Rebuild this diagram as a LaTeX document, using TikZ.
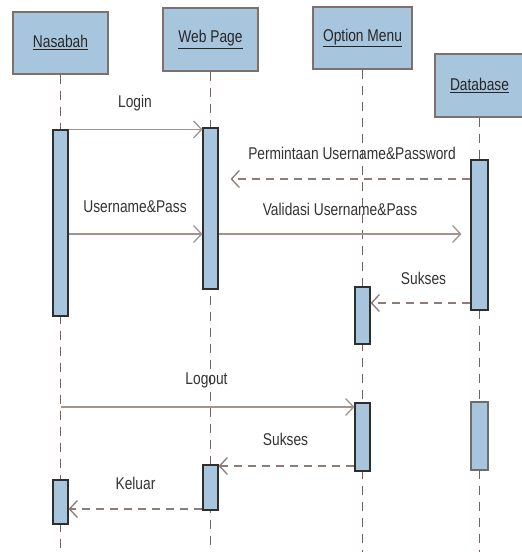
\documentclass[tikz,border=0pt]{standalone}
\usepackage{fontspec}
\setmainfont{Liberation Sans}
\usetikzlibrary{arrows.meta}
\definecolor{boxfill}{HTML}{A8C5DE}
\definecolor{boxline}{HTML}{7E706D}
\definecolor{lifeln}{HTML}{7A625C}
\definecolor{msgsolid}{HTML}{A3938F}
\definecolor{msgdash}{HTML}{8C7B76}
\definecolor{actline}{HTML}{2E2E2E}
\tikzset{
  header/.style={draw=boxline, line width=1.4pt, fill=boxfill, minimum width=95pt, minimum height=62pt, inner sep=0pt},
  actbox/.style={draw=actline, line width=1.1pt, fill=boxfill, minimum width=15pt, inner sep=0pt},
  lifeline/.style={draw=lifeln, line width=1pt, dash pattern=on 9pt off 7pt},
  msgcall/.style={draw=msgsolid, line width=1.5pt, -{Straight Barb[length=8pt,width=17pt,line width=1.3pt]}},
  msgreply/.style={draw=msgdash, line width=1.4pt, dash pattern=on 8pt off 6pt, -{Straight Barb[length=8pt,width=17pt,line width=1.3pt]}},
  lbl/.style={font=\fontsize{14.2}{16}\selectfont, text=black!80, inner sep=0pt},
  htext/.style={font=\fontsize{14.2}{16}\selectfont, text=black!85}
}
% tall, slightly narrow lettering
\newcommand{\tl}[1]{\scalebox{0.97}[1.2]{#1}}
\newcommand{\ul}[1]{\tl{\underline{#1}}}
\begin{document}
\begin{tikzpicture}[x=1pt, y=-1pt]
\useasboundingbox (0,0) rectangle (522,552);
\fill[white] (0,0) rectangle (522,552);

% lifeline heads
\node[header, htext] (nas) at (60.5,43) {\ul{Nasabah}};
\node[header, htext, minimum height=63pt] (web) at (210.5,39.5) {\ul{Web Page}};
\node[header, htext, minimum width=99pt] (opt) at (362.5,38) {\ul{Option Menu}};
\node[header, htext, minimum width=89pt, minimum height=63pt] (db) at (479.5,85.5) {\ul{Database}};

% lifeline ends
\coordinate (nasEnd) at (60.5,552);
\coordinate (webEnd) at (210.5,552);
\coordinate (optEnd) at (362.5,552);
\coordinate (dbEnd) at (479.5,552);

\draw[lifeline] (nas.south) -- (nasEnd);
\draw[lifeline] (web.south) -- (webEnd);
\draw[lifeline] (opt.south) -- (optEnd);
\draw[lifeline] (db.south) -- (dbEnd);

% activation bars
\node[actbox, minimum height=186pt] (n1) at (60.5,223) {};
\node[actbox, minimum height=161pt] (w1) at (210.5,208.5) {};
\node[actbox, minimum width=17pt, minimum height=150pt] (d1) at (479.5,235) {};
\node[actbox, minimum height=57pt] (o1) at (362.5,315.5) {};
\node[actbox, minimum height=68pt] (o2) at (362.5,437) {};
\node[actbox, draw=actline!70, minimum width=17pt, minimum height=68pt] (d2) at (479.5,436) {};
\node[actbox, minimum height=45pt] (w2) at (210.5,487.5) {};
\node[actbox, minimum height=44pt] (n2) at (60.5,502) {};

% messages
\draw[msgcall] (n1.north east) -- (n1.north east -| w1.west);
\node[lbl] (lLogin) at (135,103) {\tl{Login}};

\coordinate (reqEnd) at ([xshift=12pt]w1.east |- 0,179);
\draw[msgreply] (d1.west |- reqEnd) -- (reqEnd);
\node[lbl] (lReq) at (352,153) {\tl{Permintaan Username\&Password}};

\coordinate (upY) at (0,234);
\draw[msgcall] (n1.east |- upY) -- (w1.west |- upY);
\node[lbl] (lUp) at (135,207) {\tl{Username\&Pass}};

\coordinate (valEnd) at ([xshift=-9pt]d1.west |- upY);
\draw[msgcall] (w1.east |- upY) -- (valEnd);
\node[lbl] (lVal) at (340,209) {\tl{Validasi Username\&Pass}};

\coordinate (sukY) at (0,303);
\draw[msgreply] (d1.west |- sukY) -- (o1.east |- sukY);
\node[lbl] (lSuk) at (423.5,278) {\tl{Sukses}};

\coordinate (outY) at (0,407);
\draw[msgcall] (nas.south |- outY) -- (o2.west |- outY);
\node[lbl] (lOut) at (206.5,380) {\tl{Logout}};

\coordinate (suk2Y) at (0,466);
\draw[msgreply] (o2.west |- suk2Y) -- (w2.east |- suk2Y);
\node[lbl] (lSuk2) at (285.5,439) {\tl{Sukses}};

\coordinate (kelY) at (0,509);
\draw[msgreply] (w2.west |- kelY) -- (n2.east |- kelY);
\node[lbl] (lKel) at (135.5,483) {\tl{Keluar}};
\end{tikzpicture}
\end{document}
